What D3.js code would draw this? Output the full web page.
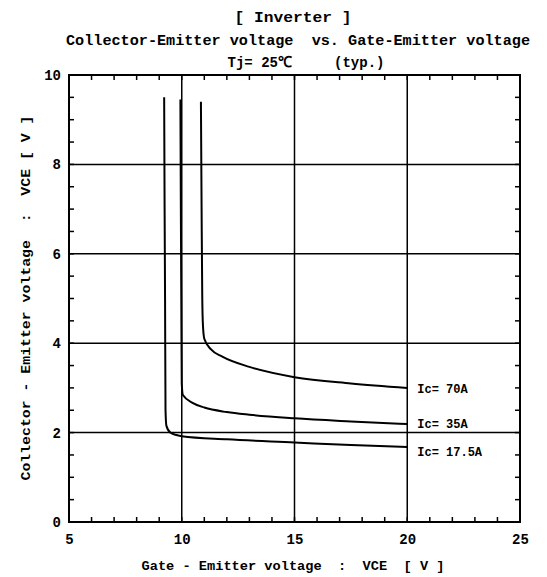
<!DOCTYPE html>
<html><head><meta charset="utf-8">
<script src="https://cdn.jsdelivr.net/npm/d3@7"></script>
<style>body{margin:0;background:#fff}text{font-family:"Liberation Mono",monospace;font-weight:bold;fill:#000;white-space:pre}</style>
</head><body><svg id="c" width="547" height="577"></svg>
<script>
const titleLines = ["[ Inverter ]", "Collector-Emitter voltage  vs. Gate-Emitter voltage", "Tj= 25\u2103     (typ.)"];
const xLabel = "Gate - Emitter voltage  :  VCE  [ V ]";
const yLabel = "Collector - Emitter voltage  :  VCE [ V ]";
const xTicks = [5, 10, 15, 20, 25];
const yTicks = [0, 2, 4, 6, 8, 10];
const seriesNames = ["Ic= 70A", "Ic= 35A", "Ic= 17.5A"];
const ic70 = [[10.85,9.4],[10.88,7],[10.91,5],[10.94,4.4],[11.0,4.1],[11.3,3.86],[11.8,3.7],[13,3.47],[15,3.24],[17.5,3.1],[20,3.0]];
const ic35 = [[9.94,9.45],[9.96,7],[9.98,5],[10.0,3.1],[10.05,2.84],[10.5,2.66],[11,2.56],[12,2.46],[13,2.4],[15,2.32],[17.5,2.25],[20,2.19]];
const ic17 = [[9.22,9.5],[9.24,7],[9.26,5],[9.28,2.5],[9.32,2.15],[9.5,2.0],[10,1.92],[12,1.85],[15,1.78],[17.5,1.72],[20,1.68]];
const seriesData = [ic70, ic35, ic17];

const svg = d3.select("#c");
const L = 69, R = 520, T = 75, B = 522;
const x = d3.scaleLinear().domain([5, 25]).range([L, R]);
const y = d3.scaleLinear().domain([0, 10]).range([B, T]);

// titles
const ty = [22, 45, 67], tx = [293, 298, 306], tl = [117, 464, 157];
titleLines.forEach((t, i) => {
  svg.append("text").attr("x", tx[i]).attr("y", ty[i]).attr("text-anchor", "middle")
    .attr("font-size", 15).attr("textLength", tl[i]).attr("lengthAdjust", "spacingAndGlyphs").text(t);
});

// gridlines
svg.append("g").selectAll("line").data([10, 15, 20]).join("line")
  .attr("x1", d => x(d)).attr("x2", d => x(d)).attr("y1", T).attr("y2", B)
  .attr("stroke", "#000").attr("stroke-width", 1.5);
svg.append("g").selectAll("line").data([2, 4, 6, 8]).join("line")
  .attr("x1", L).attr("x2", R).attr("y1", d => y(d)).attr("y2", d => y(d))
  .attr("stroke", "#000").attr("stroke-width", 1.5);

// minor ticks (inward)
const xt = d3.range(6, 25, 1), yt = d3.range(0.5, 10, 0.5);
const tg = svg.append("g").attr("stroke", "#000").attr("stroke-width", 1.5);
tg.selectAll(".bt").data(xt).join("line").attr("class","bt").attr("x1", d => x(d)).attr("x2", d => x(d)).attr("y1", B).attr("y2", B - 5);
tg.selectAll(".tt").data(xt).join("line").attr("class","tt").attr("x1", d => x(d)).attr("x2", d => x(d)).attr("y1", T).attr("y2", T + 5);
tg.selectAll(".lt").data(yt).join("line").attr("class","lt").attr("x1", L).attr("x2", L + 5).attr("y1", d => y(d)).attr("y2", d => y(d));
tg.selectAll(".rt").data(yt).join("line").attr("class","rt").attr("x1", R).attr("x2", R - 5).attr("y1", d => y(d)).attr("y2", d => y(d));

// frame
svg.append("rect").attr("x", L).attr("y", T).attr("width", R - L).attr("height", B - T)
  .attr("fill", "none").attr("stroke", "#000").attr("stroke-width", 2);

// axes labels via d3 axes
const xa = svg.append("g").attr("transform", `translate(0,${B})`)
  .call(d3.axisBottom(x).tickValues(xTicks).tickSize(0).tickPadding(12));
xa.select(".domain").remove();
xa.selectAll("text").attr("font-size", 14).style("font-family", "Liberation Mono, monospace").style("font-weight", "bold");
const ya = svg.append("g").attr("transform", `translate(${L},0)`)
  .call(d3.axisLeft(y).tickValues(yTicks).tickSize(0).tickPadding(8));
ya.select(".domain").remove();
ya.selectAll("text").attr("font-size", 14).style("font-family", "Liberation Mono, monospace").style("font-weight", "bold");

svg.append("text").attr("x", 293).attr("y", 570).attr("text-anchor", "middle").attr("font-size", 13)
  .attr("textLength", 303).attr("lengthAdjust", "spacingAndGlyphs").text(xLabel);
svg.append("text").attr("transform", "translate(30,298) rotate(-90)").attr("text-anchor", "middle").attr("font-size", 13)
  .attr("textLength", 365).attr("lengthAdjust", "spacingAndGlyphs").text(yLabel);

// curves
const line = d3.line().x(d => x(d[0])).y(d => y(d[1])).curve(d3.curveMonotoneX);
svg.append("g").selectAll("path").data(seriesData).join("path")
  .attr("d", line).attr("fill", "none").attr("stroke", "#000").attr("stroke-width", 2);

// series labels
svg.append("g").selectAll("text").data(seriesNames).join("text")
  .attr("x", x(20) + 10).attr("y", (d, i) => y(seriesData[i][seriesData[i].length - 1][1]) + [5, 4, 9][i])
  .attr("font-size", 12).text(d => d);
</script></body></html>
